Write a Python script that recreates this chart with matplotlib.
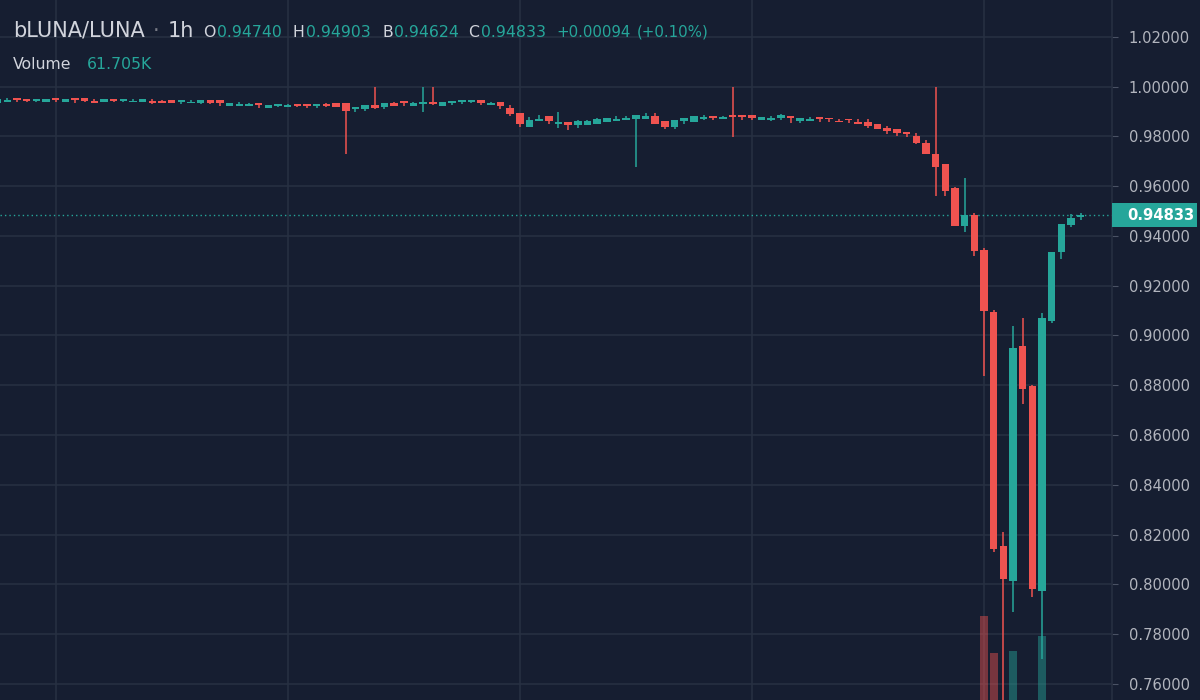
import matplotlib
matplotlib.use("Agg")
import matplotlib.pyplot as plt
from matplotlib.patches import Rectangle
from matplotlib.ticker import FormatStrFormatter
import numpy as np

BG = "#161e31"
GRID = "#283142"
UP = "#26a69a"
DOWN = "#ef5350"
TXT = "#d1d4dc"
AXTXT = "#b2b5be"

# hourly candles, oldest first (first one is cut by the left edge)
opens = [
    0.9935, 0.9938, 0.9953, 0.9950, 0.9943, 0.9936, 0.9953, 0.9936, 0.9953, 0.9953,
    0.9940, 0.9936, 0.9950, 0.9942, 0.9936, 0.9938, 0.9940, 0.9940, 0.9944, 0.9936,
    0.9932, 0.9935, 0.9944, 0.9944, 0.9921, 0.9921, 0.9922, 0.9935, 0.9913, 0.9922,
    0.9918, 0.9930, 0.9930, 0.9922, 0.9930, 0.9933, 0.9933, 0.9910, 0.9911, 0.9924,
    0.9918, 0.9934, 0.9942, 0.9923, 0.9931, 0.9939, 0.9923, 0.9935, 0.9938, 0.9939,
    0.9944, 0.9924, 0.9938, 0.9915, 0.9895, 0.9836, 0.9862, 0.9880, 0.9851, 0.9859,
    0.9844, 0.9845, 0.9851, 0.9856, 0.9862, 0.9866, 0.9868, 0.9870, 0.9883, 0.9862,
    0.9839, 0.9863, 0.9859, 0.9870, 0.9883, 0.9868, 0.9887, 0.9887, 0.9884, 0.9866,
    0.9864, 0.9875, 0.9883, 0.9860, 0.9863, 0.9878, 0.9874, 0.9861, 0.9871, 0.9859,
    0.9859, 0.9848, 0.9833, 0.9829, 0.9816, 0.9801, 0.9772, 0.9730, 0.9689, 0.9594,
    0.9441, 0.9484, 0.9344, 0.9093, 0.8156, 0.8015, 0.8958, 0.8797, 0.7974, 0.9060,
    0.9337, 0.9444, 0.94740,
]
highs = [
    0.9950, 0.9954, 0.9953, 0.9950, 0.9950, 0.9950, 0.9953, 0.9950, 0.9953, 0.9953,
    0.9948, 0.9950, 0.9950, 0.9950, 0.9950, 0.9950, 0.9948, 0.9946, 0.9944, 0.9944,
    0.9946, 0.9944, 0.9944, 0.9944, 0.9935, 0.9937, 0.9935, 0.9935, 0.9927, 0.9930,
    0.9931, 0.9930, 0.9930, 0.9931, 0.9934, 0.9933, 0.9933, 0.9918, 0.9925, 1.0000,
    0.9934, 0.9936, 0.9942, 0.9939, 1.0000, 1.0000, 0.9938, 0.9942, 0.9946, 0.9947,
    0.9944, 0.9938, 0.9938, 0.9924, 0.9895, 0.9876, 0.9887, 0.9880, 0.9898, 0.9859,
    0.9866, 0.9867, 0.9875, 0.9873, 0.9883, 0.9883, 0.9886, 0.9894, 0.9894, 0.9862,
    0.9866, 0.9872, 0.9883, 0.9884, 0.9883, 0.9883, 1.0000, 0.9887, 0.9884, 0.9878,
    0.9880, 0.9891, 0.9883, 0.9875, 0.9878, 0.9878, 0.9874, 0.9871, 0.9871, 0.9868,
    0.9868, 0.9848, 0.9840, 0.9829, 0.9816, 0.9812, 0.9785, 1.0000, 0.9689, 0.9598,
    0.9634, 0.9491, 0.9350, 0.9102, 0.8212, 0.9038, 0.9069, 0.8801, 0.9092, 0.9334,
    0.9446, 0.9487, 0.94903,
]
lows = [
    0.9935, 0.9938, 0.9937, 0.9936, 0.9937, 0.9936, 0.9936, 0.9936, 0.9935, 0.9936,
    0.9932, 0.9936, 0.9936, 0.9936, 0.9936, 0.9936, 0.9930, 0.9932, 0.9935, 0.9930,
    0.9932, 0.9930, 0.9930, 0.9922, 0.9921, 0.9921, 0.9920, 0.9913, 0.9913, 0.9916,
    0.9918, 0.9916, 0.9915, 0.9915, 0.9916, 0.9919, 0.9730, 0.9898, 0.9903, 0.9909,
    0.9910, 0.9922, 0.9923, 0.9922, 0.9899, 0.9926, 0.9923, 0.9924, 0.9930, 0.9932,
    0.9926, 0.9924, 0.9911, 0.9882, 0.9839, 0.9836, 0.9862, 0.9851, 0.9832, 0.9827,
    0.9835, 0.9845, 0.9851, 0.9856, 0.9862, 0.9866, 0.9675, 0.9870, 0.9851, 0.9828,
    0.9829, 0.9851, 0.9859, 0.9866, 0.9866, 0.9868, 0.9799, 0.9867, 0.9866, 0.9866,
    0.9862, 0.9866, 0.9852, 0.9855, 0.9863, 0.9857, 0.9857, 0.9856, 0.9853, 0.9850,
    0.9835, 0.9828, 0.9809, 0.9801, 0.9797, 0.9768, 0.9728, 0.9562, 0.9560, 0.9441,
    0.9416, 0.9321, 0.8837, 0.8132, 0.7400, 0.7891, 0.8725, 0.7951, 0.7701, 0.9052,
    0.9306, 0.9434, 0.94624,
]
closes = [
    0.9950, 0.9946, 0.9945, 0.9943, 0.9950, 0.9950, 0.9945, 0.9950, 0.9945, 0.9943,
    0.9932, 0.9950, 0.9942, 0.9950, 0.9942, 0.9950, 0.9933, 0.9932, 0.9935, 0.9944,
    0.9938, 0.9944, 0.9935, 0.9935, 0.9935, 0.9929, 0.9930, 0.9926, 0.9927, 0.9930,
    0.9927, 0.9922, 0.9922, 0.9931, 0.9920, 0.9919, 0.9903, 0.9918, 0.9925, 0.9913,
    0.9934, 0.9922, 0.9934, 0.9932, 0.9939, 0.9931, 0.9938, 0.9942, 0.9946, 0.9947,
    0.9935, 0.9932, 0.9922, 0.9891, 0.9848, 0.9866, 0.9870, 0.9862, 0.9859, 0.9844,
    0.9860, 0.9863, 0.9871, 0.9873, 0.9868, 0.9872, 0.9886, 0.9883, 0.9851, 0.9839,
    0.9866, 0.9872, 0.9883, 0.9879, 0.9875, 0.9876, 0.9879, 0.9876, 0.9875, 0.9878,
    0.9872, 0.9884, 0.9872, 0.9875, 0.9870, 0.9870, 0.9868, 0.9856, 0.9864, 0.9851,
    0.9843, 0.9828, 0.9820, 0.9812, 0.9808, 0.9775, 0.9728, 0.9678, 0.9582, 0.9441,
    0.9484, 0.9341, 0.9098, 0.8143, 0.8022, 0.8949, 0.8787, 0.7982, 0.9069, 0.9334,
    0.9446, 0.9473, 0.94833,
]

# volume (K) of the last candles, only the crash bars reach into view
vol_idx = [96, 97, 98, 99, 100, 101, 102, 103, 104, 105, 106, 107, 108, 109, 110, 111, 112]
volumes = [40, 125, 100, 115, 90, 140, 328, 254.6, 150, 258.6, 130, 150, 288, 120, 95, 75, 61.705]

price_ticks = [0.76, 0.78, 0.80, 0.82, 0.84, 0.86, 0.88, 0.90,
               0.92, 0.94, 0.96, 0.98, 1.00, 1.02]
day_marks = [6, 30, 54, 78, 102]

plt.rcParams['font.family'] = ['DejaVu Sans']

o = np.array(opens)
h = np.array(highs)
l = np.array(lows)
c = np.array(closes)
x = np.arange(len(o))
colors = [UP if cc >= oo else DOWN for oo, cc in zip(o, c)]

fig = plt.figure(figsize=(12, 7), dpi=100, facecolor=BG)
rect = [0, 0, 1112 / 1200, 1]
ax = fig.add_axes(rect)
ax.set_facecolor(BG)
ax.set_xlim(0.248, 115.24)
ax.set_ylim(0.75361, 1.03474)

# grid + scale
ax.set_yticks(price_ticks)
ax.set_xticks(day_marks)
ax.grid(True, color=GRID, linewidth=1.1)
ax.set_axisbelow(True)
ax.yaxis.tick_right()
ax.yaxis.set_major_formatter(FormatStrFormatter('%.5f'))
ax.tick_params(axis='y', length=4, width=0.8, color="#4a5264", pad=8,
               labelsize=10.6, labelcolor=AXTXT)
ax.tick_params(axis='x', length=0, labelbottom=False)
for name, sp in ax.spines.items():
    sp.set_visible(name == 'right')
ax.spines['right'].set_color(GRID)
ax.spines['right'].set_linewidth(1.1)

# last price line
ax.axhline(c[-1], color=UP, linewidth=1, linestyle=(0, (1, 2.2)), zorder=1.5)

# candles
wicks = ax.vlines(x, l, h, colors=colors, linewidth=1.1, zorder=2)
wicks.set_snap(True)
body_bottom = np.minimum(o, c)
body_height = np.maximum(np.abs(c - o), 0.0005)
ax.bar(x, body_height, bottom=body_bottom, width=0.78, color=colors,
       linewidth=0, zorder=3)

# volume overlay
axv = fig.add_axes(rect)
axv.set_xlim(ax.get_xlim())
axv.set_ylim(160, 1560)
axv.axis('off')
axv.patch.set_alpha(0)
vcolors = [colors[i] for i in vol_idx]
axv.bar(vol_idx, volumes, width=0.82, color=vcolors, alpha=0.45, linewidth=0)

# last price badge on the scale
y_px = ax.transData.transform((0, c[-1]))[1]
fig.add_artist(Rectangle((1112 / 1200, (y_px - 11.7) / 700), 85 / 1200, 23.4 / 700,
                         transform=fig.transFigure, facecolor=UP, edgecolor='none'))
fig.text(1127 / 1200, y_px / 700, f"{c[-1]:.5f}", color="white", fontsize=10.6,
         fontweight='bold', va='center', ha='left')


def put(xp, yp, s, color, size):
    fig.text(xp / 1200, 1 - yp / 700, s, color=color, fontsize=size, va='baseline', ha='left')


# header
put(13, 36.7, "bLUNA/LUNA", TXT, 15)
put(153, 36.7, "·", "#787b86", 15)
put(168, 36.7, "1h", TXT, 15)
put(203, 36.7, "O", TXT, 11.3)
put(217, 36.7, f"{opens[-1]:.5f}", UP, 11.3)
put(292, 36.7, "H", TXT, 11.3)
put(306, 36.7, f"{highs[-1]:.5f}", UP, 11.3)
put(382, 36.7, "B", TXT, 11.3)
put(394, 36.7, f"{lows[-1]:.5f}", UP, 11.3)
put(468, 36.7, "C", TXT, 11.3)
put(481, 36.7, f"{closes[-1]:.5f}", UP, 11.3)
put(556, 36.7, "+0.00094", UP, 10.8)
put(637, 36.7, "(+0.10%)", UP, 10.8)
put(13, 69.3, "Volume", TXT, 11.3)
put(87, 69.3, f"{volumes[-1]:.3f}K", UP, 11.3)

fig.savefig("out.png", dpi=100, facecolor=BG)
